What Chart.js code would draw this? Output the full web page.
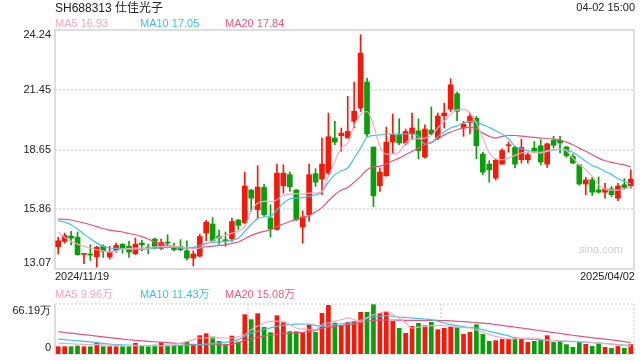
<!DOCTYPE html>
<html><head><meta charset="utf-8">
<script src="https://cdn.jsdelivr.net/npm/chart.js@4.4.0/dist/chart.umd.min.js"></script>
<style>
body{margin:0;background:#fff;width:640px;height:360px;overflow:hidden;font-family:"Liberation Sans",Arial,"Noto Sans CJK SC",sans-serif;}
.t{position:absolute;white-space:nowrap;line-height:1;}
canvas{position:absolute;left:0;top:0;}
</style></head><body>
<canvas id="main" width="640" height="360"></canvas>
<canvas id="vol" width="640" height="360"></canvas>
<div class="t" style="left:55px;top:2px;font-size:12px;color:#222">SH688313 仕佳光子</div>
<div class="t" style="right:5px;top:2px;font-size:11px;color:#222">04-02 15:00</div>
<div class="t" id="lg5" style="left:55px;top:18px;font-size:11px;color:#f7a6c4"></div>
<div class="t" id="lg10" style="left:140px;top:18px;font-size:11px;color:#3ec5e2"></div>
<div class="t" id="lg20" style="left:225px;top:18px;font-size:11px;color:#ec5a86"></div>
<div class="t" id="d0" style="left:55px;top:271px;font-size:11px;color:#222"></div>
<div class="t" id="d1" style="right:5px;top:271px;font-size:11px;color:#222"></div>
<div class="t" id="vg5" style="left:55px;top:289px;font-size:11px;color:#f7a6c4"></div>
<div class="t" id="vg10" style="left:140px;top:289px;font-size:11px;color:#3ec5e2"></div>
<div class="t" id="vg20" style="left:225px;top:289px;font-size:11px;color:#ec5a86"></div>
<div class="t" style="right:17px;top:244px;font-size:11px;color:#cfcfcf">sina.com</div>
<script>
const dates = ['2024/11/19','2024/11/20','2024/11/21','2024/11/22','2024/11/25','2024/11/26','2024/11/27','2024/11/28','2024/11/29',
'2024/12/02','2024/12/03','2024/12/04','2024/12/05','2024/12/06','2024/12/09','2024/12/10','2024/12/11','2024/12/12','2024/12/13','2024/12/16','2024/12/17','2024/12/18','2024/12/19','2024/12/20','2024/12/23','2024/12/24','2024/12/25','2024/12/26','2024/12/27','2024/12/30','2024/12/31',
'2025/01/02','2025/01/03','2025/01/06','2025/01/07','2025/01/08','2025/01/09','2025/01/10','2025/01/13','2025/01/14','2025/01/15','2025/01/16','2025/01/17','2025/01/20','2025/01/21','2025/01/22','2025/01/23','2025/01/24','2025/01/27',
'2025/02/05','2025/02/06','2025/02/07','2025/02/10','2025/02/11','2025/02/12','2025/02/13','2025/02/14','2025/02/17','2025/02/18','2025/02/19','2025/02/20','2025/02/21','2025/02/24','2025/02/25','2025/02/26','2025/02/27','2025/02/28',
'2025/03/03','2025/03/04','2025/03/05','2025/03/06','2025/03/07','2025/03/10','2025/03/11','2025/03/12','2025/03/13','2025/03/14','2025/03/17','2025/03/18','2025/03/19','2025/03/20','2025/03/21','2025/03/24','2025/03/25','2025/03/26','2025/03/27','2025/03/28','2025/03/31',
'2025/04/01','2025/04/02'];

const open  = [14.11,14.36,14.61,14.56,13.75,13.77,13.64,14.14,13.63,13.94, 14.23,14.13,13.78,14.28,14.09,14.47,14.02,14.33,14.13,14.13,
13.92,13.58,13.67,14.75,15.17,14.61,14.42,14.48,15.36,15.23, 16.76,15.84,16.88,15.45,14.92,16.96,17.48,16.76,15.03,15.61,
17.52,17.27,17.55,19.19,19.30,19.19,19.97,20.59,21.81,18.77, 16.96,17.43,19.00,19.34,18.96,19.38,19.53,18.30,19.56,19.19,
20.23,20.54,21.26,19.66,19.92,20.12,18.44,17.97,17.32,17.97, 18.83,18.75,18.18,18.18,18.72,18.83,17.97,19.08,19.08,18.77,
18.33,17.94,17.04,17.24,16.77,16.66,16.82,16.38,17.01,16.96];
const high  = [14.55,14.75,14.83,14.80,13.80,14.20,14.13,14.20,14.13,14.28, 14.25,14.36,14.52,14.42,14.23,14.52,14.47,14.67,14.28,14.44,
14.39,13.92,14.70,15.34,15.48,14.89,14.80,15.45,15.39,17.60, 16.79,17.90,17.04,16.07,17.97,17.94,17.60,16.79,15.79,17.97,
17.76,19.19,20.36,19.97,19.66,21.14,21.81,24.02,21.99,18.77, 17.79,19.70,20.31,20.09,19.61,20.36,20.09,19.81,20.64,20.36,
20.82,21.96,21.34,19.97,20.36,20.20,18.53,18.13,18.21,18.69, 19.00,18.80,19.14,18.49,19.03,19.11,18.96,19.27,19.27,18.80,
18.44,17.94,17.35,17.35,17.37,17.07,16.93,17.07,17.29,17.71];
const low   = [13.77,14.28,14.20,13.71,13.32,13.47,13.16,13.61,13.53,13.86, 13.81,13.61,13.74,13.92,13.78,14.00,13.97,14.05,13.92,13.92,
13.50,13.21,13.64,14.39,14.33,14.23,14.13,14.36,14.92,15.20, 15.76,15.42,15.53,14.56,14.89,16.62,16.70,15.33,14.28,15.29,
16.93,16.54,17.48,18.88,18.57,19.19,19.66,20.43,19.27,15.99, 16.70,17.40,18.49,18.88,18.88,19.11,18.21,18.25,19.34,19.11,
19.66,20.43,20.00,19.27,19.38,18.22,17.48,17.13,17.23,17.97, 18.53,17.79,18.02,18.02,18.49,17.94,17.82,18.72,18.49,18.29,
17.99,16.98,16.54,16.51,16.62,16.38,16.46,16.26,16.82,16.85];
const close = [14.39,14.64,14.51,13.74,13.78,13.72,14.09,13.89,13.86,14.17, 14.05,13.86,14.23,14.20,14.02,14.05,14.31,14.28,13.97,13.97,
13.58,13.77,14.59,15.26,14.39,14.51,14.39,15.29,15.11,16.95, 16.38,16.90,15.61,14.94,17.55,17.55,16.91,15.37,15.50,17.48,
17.13,17.97,19.25,19.00,19.42,19.50,20.44,23.16,19.38,16.49, 17.60,19.00,19.34,18.96,19.50,19.66,18.60,19.61,19.38,20.22,
20.36,21.68,20.44,19.84,20.20,18.83,17.60,17.71,18.15,18.61, 18.88,17.97,18.75,18.41,18.57,18.07,18.92,18.85,18.96,18.36,
18.02,17.04,17.23,16.66,16.66,16.81,16.54,16.95,16.88,17.27];

const ma5  = [14.80,14.55,14.36,14.23,14.13,14.05,13.97,13.92,13.86,13.92, 14.00,14.02,14.05,14.05,14.05,14.11,14.13,14.13,14.14,14.11,
14.05,14.02,14.05,14.23,14.39,14.55,14.64,14.75,14.83,15.06, 15.79,16.15,16.23,16.23,16.31,16.54,16.57,16.59,16.57,16.62,
16.62,16.70,17.40,18.10,18.72,18.96,19.78,20.28,20.43,19.81, 18.80,18.44,18.44,18.53,18.96,19.14,19.16,19.19,19.31,19.66,
19.97,20.31,20.51,20.53,20.36,19.89,19.19,18.49,18.22,18.18, 18.25,18.38,18.49,18.53,18.53,18.49,18.57,18.64,18.66,18.60,
18.25,17.94,17.71,17.40,17.01,16.79,16.76,16.76,16.79,16.93];
const ma10 = [15.33,15.26,15.14,14.94,14.70,14.48,14.28,14.13,14.05,14.03, 14.02,14.00,13.99,13.99,14.02,14.05,14.06,14.08,14.08,14.06,
14.05,14.08,14.17,14.27,14.31,14.33,14.36,14.41,14.51,14.83, 15.14,15.42,15.50,15.53,15.84,16.15,16.35,16.38,16.41,16.46,
16.54,16.66,17.13,17.48,17.66,17.79,18.25,18.72,19.22,19.31, 19.34,19.38,19.38,19.38,19.38,19.38,19.27,18.91,18.96,19.27,
19.47,19.66,19.76,19.89,19.97,19.94,19.81,19.69,19.53,19.38, 19.16,18.80,18.69,18.60,18.53,18.53,18.60,18.64,18.66,18.64,
18.53,18.33,18.10,17.91,17.79,17.63,17.48,17.29,17.16,17.05];
const ma20 = [15.40,15.39,15.36,15.29,15.22,15.14,15.05,14.95,14.89,14.84, 14.80,14.73,14.67,14.58,14.47,14.33,14.25,14.17,14.13,14.09,
14.06,14.05,14.06,14.11,14.14,14.17,14.20,14.27,14.33,14.48, 14.64,14.75,14.83,14.90,15.05,15.17,15.29,15.39,15.48,15.57,
15.73,15.95,16.26,16.54,16.76,16.88,17.13,17.40,17.71,17.85, 17.88,17.97,18.13,18.25,18.41,18.57,18.72,18.88,18.99,19.16,
19.34,19.47,19.58,19.67,19.69,19.63,19.42,19.27,19.19,19.27, 19.31,19.31,19.28,19.25,19.22,19.19,19.17,19.14,19.10,19.00,
18.88,18.72,18.57,18.41,18.25,18.13,18.05,17.99,17.94,17.84];

const volume = [9.7,9.7,9.7,10.6,9.7,9.7,15.0,9.7,9.7,9.7, 9.7,9.7,14.1,10.6,9.7,11.9,15.0,11.9,10.6,10.6,
16.3,11.9,24.3,26.9,22.5,16.8,12.4,23.8,15.9,52.1, 45.5,53.4,35.3,28.2,50.7,41.5,29.6,29.6,27.8,38.4,
28.7,53.8,64.4,41.0,37.5,41.9,43.2,55.2,55.2,65.3, 53.8,55.2,43.2,34.0,27.4,36.6,40.6,37.5,41.9,32.2,
34.0,35.7,35.3,26.0,28.7,38.8,26.0,16.8,17.7,19.4, 19.4,21.6,19.4,15.4,16.8,18.1,24.3,15.4,16.8,12.4,
8.8,15.4,12.8,10.1,13.7,8.8,7.5,10.1,7.5,12.4];
const volMa5 = [14.6,14.0,13.5,13.0,12.7,12.5,12.4,12.0,11.6,11.3, 11.1,11.0,11.0,11.0,11.0,11.0,11.0,11.0,12.5,14.5,
16.5,18.8,21.2,21.4,21.4,21.3,21.2,21.2,23.0,25.6, 32.2,37.0,41.0,43.2,43.5,43.2,39.0,34.4,33.0,32.2,
32.2,38.8,41.0,43.2,45.5,47.7,45.5,43.2,48.0,52.0, 54.3,56.5,52.0,47.7,41.0,34.4,35.5,36.5,37.5,37.5,
37.5,36.5,35.7,35.0,34.4,32.0,29.0,26.0,23.4,21.5, 19.9,20.3,20.7,21.0,21.2,19.8,18.1,17.6,17.2,17.0,
16.9,16.8,16.0,15.2,14.5,13.7,12.8,11.9,11.0,9.96];
const volMa10 = [19.9,19.0,18.2,17.5,16.8,16.0,15.0,14.0,13.2,12.4, 12.0,11.7,11.4,11.2,11.0,11.0,11.0,11.1,11.2,11.4,
11.6,11.9,12.4,13.0,13.7,14.5,15.5,17.0,19.0,23.4, 27.8,30.0,32.5,34.5,36.6,38.0,39.0,39.5,39.7,39.7,
37.5,36.6,37.5,39.0,40.0,41.0,43.0,45.0,47.0,49.0, 50.0,50.7,50.0,49.0,48.3,47.7,47.0,46.3,45.5,43.5,
41.0,38.8,37.5,36.3,35.2,34.4,32.2,30.0,28.0,26.0, 24.0,21.2,20.5,19.8,19.2,18.6,18.1,17.6,17.2,16.8,
16.4,16.0,15.6,15.2,14.6,13.9,13.2,12.5,11.9,11.43];
const volMa20 = [29.6,28.5,27.6,26.6,25.6,24.6,23.6,22.6,21.6,20.7, 19.8,18.9,18.0,17.4,16.8,16.2,15.6,15.0,14.4,13.8,
13.2,12.8,12.5,12.3,12.1,12.0,12.1,12.8,15.0,18.0, 20.2,22.0,23.6,24.8,25.8,26.8,27.6,28.2,28.8,29.6,
31.5,34.0,35.5,36.5,37.5,38.8,40.0,41.5,43.0,44.6, 44.8,45.0,45.0,44.8,44.6,44.6,44.6,44.6,44.6,44.6,
44.2,43.8,43.3,42.8,42.2,41.6,40.8,40.2,39.0,37.8, 36.6,35.4,34.4,33.2,32.0,30.8,29.6,28.4,27.2,26.0,
24.8,23.6,22.6,21.6,20.6,19.6,18.6,17.6,16.5,15.08];

const priceTicks = [13.07, 15.86, 18.65, 21.45, 24.24];
const volTicks = [0, 66.19];
const volTickLabels = ['0', '66.19万'];

const RED = '#f21b0b', GREEN = '#0b9e0b';
const C5 = '#f7a8c4', C10 = '#40c4e4', C20 = '#e9527f';
const last = a => a[a.length - 1];

document.getElementById('lg5').textContent = 'MA5 ' + last(ma5).toFixed(2);
document.getElementById('lg10').textContent = 'MA10 ' + last(ma10).toFixed(2);
document.getElementById('lg20').textContent = 'MA20 ' + last(ma20).toFixed(2);
document.getElementById('vg5').textContent = 'MA5 ' + last(volMa5).toFixed(2) + '万';
document.getElementById('vg10').textContent = 'MA10 ' + last(volMa10).toFixed(2) + '万';
document.getElementById('vg20').textContent = 'MA20 ' + last(volMa20).toFixed(2) + '万';
document.getElementById('d0').textContent = dates[0];
document.getElementById('d1').textContent = last(dates);

const colors = open.map((o, i) => close[i] >= o ? RED : GREEN);
const FONT = '11px "Liberation Sans", Arial, sans-serif';

function dotted(ctx, x1, y1, x2, y2) {
  ctx.save();
  ctx.strokeStyle = '#e2e2e2'; ctx.lineWidth = 2; ctx.setLineDash([2, 2]);
  ctx.beginPath(); ctx.moveTo(x1, y1); ctx.lineTo(x2, y2); ctx.stroke();
  ctx.restore();
}

const mainDeco = {
  id: 'mainDeco',
  beforeDatasetsDraw(chart) {
    const {ctx, chartArea: a} = chart; const y = chart.scales.y;
    priceTicks.slice(1, -1).forEach(v => { const p = Math.round(y.getPixelForValue(v)); dotted(ctx, a.left, p, a.right, p); });
    ctx.save();
    ctx.strokeStyle = '#d4d4d4'; ctx.lineWidth = 1.5;
    ctx.strokeRect(a.left, a.top, a.right - a.left, a.bottom - a.top);
    ctx.restore();
  },
  afterDraw(chart) {
    const {ctx, chartArea: a} = chart; const y = chart.scales.y;
    ctx.save(); ctx.font = FONT; ctx.fillStyle = '#222'; ctx.textAlign = 'right'; ctx.textBaseline = 'middle';
    priceTicks.forEach((v, i) => {
      let p = y.getPixelForValue(v);
      if (i === priceTicks.length - 1) p += 5; if (i === 0) p -= 6;
      ctx.fillText(v.toFixed(2), a.left - 4, p);
    });
    ctx.restore();
  }
};

const volDeco = {
  id: 'volDeco',
  beforeDatasetsDraw(chart) {
    const {ctx, chartArea: a} = chart;
    dotted(ctx, a.left, a.top, a.right, a.top);
    dotted(ctx, a.left, a.bottom, a.right, a.bottom);
    dotted(ctx, a.right, a.top, a.right, a.bottom);
    [1/3, 2/3].forEach(f => { const x = Math.round(a.left + (a.right - a.left) * f); dotted(ctx, x, a.top, x, a.bottom); });
    ctx.save(); ctx.strokeStyle = '#d4d4d4'; ctx.lineWidth = 1.5;
    ctx.beginPath(); ctx.moveTo(a.left, a.top); ctx.lineTo(a.left, a.bottom); ctx.stroke(); ctx.restore();
  },
  afterDraw(chart) {
    const {ctx, chartArea: a} = chart; const y = chart.scales.y;
    ctx.save(); ctx.font = FONT; ctx.fillStyle = '#222'; ctx.textAlign = 'right'; ctx.textBaseline = 'middle';
    volTicks.forEach((v, i) => {
      let p = y.getPixelForValue(v);
      if (i === volTicks.length - 1) p += 7; if (i === 0) p -= 6;
      ctx.fillText(volTickLabels[i], a.left - 4, p);
    });
    ctx.restore();
  }
};

function maLine(label, data, color) {
  return {type: 'line', label, data, borderColor: color, borderWidth: 1.2, pointRadius: 0, cubicInterpolationMode: 'monotone', fill: false, order: 0};
}

const common = {
  animation: false, responsive: false, events: [],
  plugins: {legend: {display: false}, tooltip: {enabled: false}}
};

new Chart(document.getElementById('main'), {
  type: 'bar',
  data: {
    labels: dates,
    datasets: [
      maLine('MA5', ma5, C5), maLine('MA10', ma10, C10), maLine('MA20', ma20, C20),
      {label: 'wick', data: low.map((l, i) => [l, high[i]]), backgroundColor: colors, barThickness: 1, grouped: false, order: 3},
      {label: 'body', data: open.map((o, i) => [o, close[i]]), backgroundColor: colors, barThickness: 5, minBarLength: 1, grouped: false, order: 2}
    ]
  },
  options: Object.assign({}, common, {
    layout: {padding: {left: 55, right: 6, top: 30, bottom: 91}},
    scales: {x: {display: false}, y: {display: false, min: priceTicks[0], max: last(priceTicks)}}
  }),
  plugins: [mainDeco]
});

new Chart(document.getElementById('vol'), {
  type: 'bar',
  data: {
    labels: dates,
    datasets: [
      maLine('MA5', volMa5, C5), maLine('MA10', volMa10, C10), maLine('MA20', volMa20, C20),
      {label: 'vol', data: volume, backgroundColor: colors, barThickness: 4, grouped: false, order: 2}
    ]
  },
  options: Object.assign({}, common, {
    layout: {padding: {left: 55, right: 6, top: 304, bottom: 6}},
    scales: {x: {display: false}, y: {display: false, min: volTicks[0], max: last(volTicks)}}
  }),
  plugins: [volDeco]
});
</script>
</body></html>
